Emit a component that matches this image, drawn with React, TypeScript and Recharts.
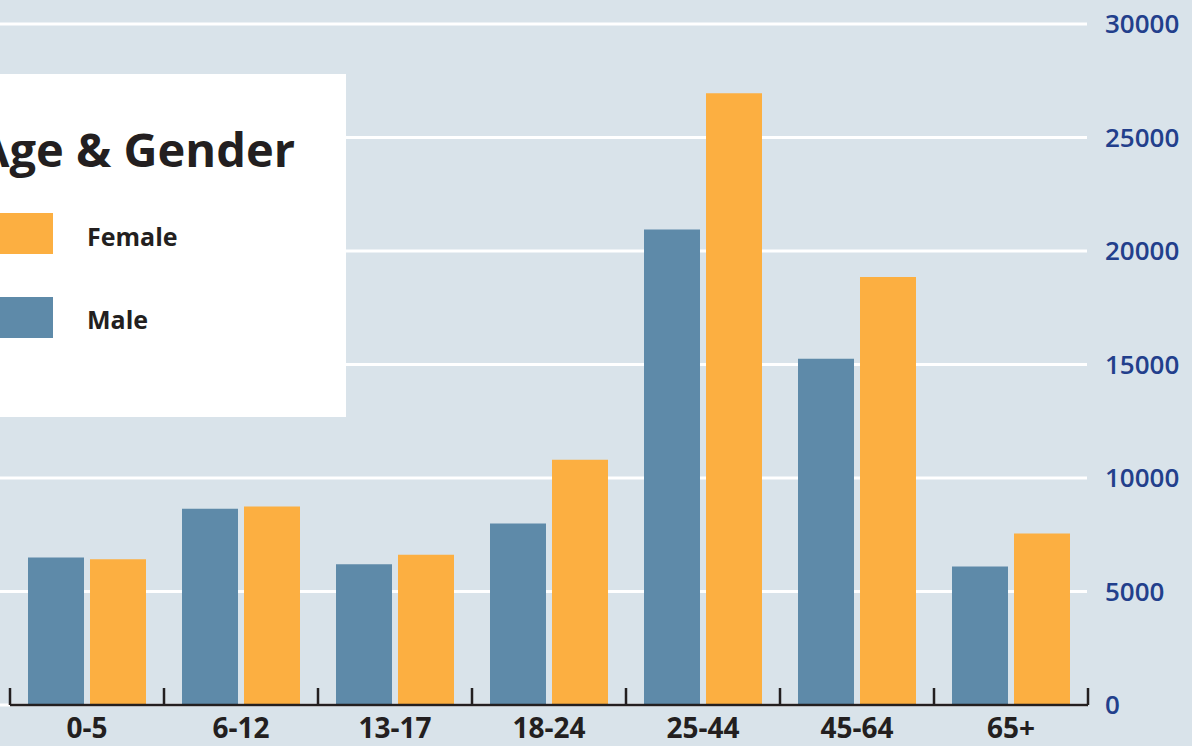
import React from "react";
import {
  BarChart,
  Bar,
  XAxis,
  YAxis,
  CartesianGrid,
} from "recharts";

const AGE_GROUPS = ["0-5", "6-12", "13-17", "18-24", "25-44", "45-64", "65+"];
const MALE = [6500, 8650, 6200, 8000, 20950, 15250, 6100];
const FEMALE = [6420, 8750, 6620, 10800, 26950, 18850, 7550];
const Y_TICKS = [0, 5000, 10000, 15000, 20000, 25000, 30000];
const TITLE = "Age & Gender";
const SERIES_NAMES = ["Male", "Female"];

const W = 1192;
const H = 746;
const LEFT = 10;
const Y_AXIS_W = 104;
const HALF_BAND = (W - LEFT - Y_AXIS_W) / AGE_GROUPS.length / 2;

const FONT = "'Open Sans', 'Noto Sans', sans-serif";
const INK = "#231f20";
const BLUE_TEXT = "#223f8c";
const MALE_COLOR = "#5e8aa9";
const FEMALE_COLOR = "#fcaf41";

const data = AGE_GROUPS.map((g, i) => ({ group: g, Male: MALE[i], Female: FEMALE[i] }));

const legendItems = [
  { name: SERIES_NAMES[1], color: FEMALE_COLOR },
  { name: SERIES_NAMES[0], color: MALE_COLOR },
];

const AgeTick = (props: any) => {
  const { x, y, payload, index } = props;
  const last = index === AGE_GROUPS.length - 1;
  return (
    <g>
      <line x1={x - HALF_BAND} x2={x - HALF_BAND} y1={y} y2={y - 17} stroke={INK} strokeWidth={2.5} />
      {last && (
        <line x1={x + HALF_BAND} x2={x + HALF_BAND} y1={y} y2={y - 17} stroke={INK} strokeWidth={2.5} />
      )}
      <text
        x={x}
        y={y + 33}
        textAnchor="middle"
        fill={INK}
        fontFamily={FONT}
        fontWeight={700}
        fontSize={28}
      >
        {payload.value}
      </text>
    </g>
  );
};

const LegendBox = () => (
  <div
    style={{
      position: "absolute",
      left: 0,
      top: 74,
      width: 346,
      height: 343,
      background: "#ffffff",
      overflow: "hidden",
      fontFamily: FONT,
      color: INK,
      zIndex: 2,
    }}
  >
    <div
      style={{
        position: "absolute",
        right: 51,
        top: 43,
        whiteSpace: "nowrap",
        fontSize: 47,
        fontWeight: 700,
        lineHeight: "64px",
      }}
    >
      {TITLE}
    </div>
    {legendItems.map((it, i) => (
      <div key={it.name}>
        <div
          style={{
            position: "absolute",
            left: 0,
            top: 139 + i * 84,
            width: 53,
            height: 41,
            background: it.color,
          }}
        />
        <div
          style={{
            position: "absolute",
            left: 87,
            top: 146 + i * 83,
            fontSize: 25,
            fontWeight: 700,
            lineHeight: "32px",
          }}
        >
          {it.name}
        </div>
      </div>
    ))}
  </div>
);

export default function App() {
  return (
    <div
      style={{
        position: "absolute",
        left: 0,
        top: 0,
        width: W,
        height: H,
        background: "#d9e3ea",
        overflow: "hidden",
      }}
    >
      <BarChart
        width={W}
        height={H}
        data={data}
        margin={{ top: 24, right: 0, left: LEFT, bottom: 0 }}
        barCategoryGap={18}
        barGap={6}
      >
        <CartesianGrid
          horizontal
          vertical={false}
          stroke="#ffffff"
          strokeWidth={3}
          x={0}
          width={W - Y_AXIS_W - 1}
        />
        <XAxis
          dataKey="group"
          height={41}
          interval={0}
          tickSize={0}
          tickMargin={0}
          tickLine={false}
          axisLine={{ stroke: INK, strokeWidth: 2.5 }}
          tick={<AgeTick />}
        />
        <YAxis
          orientation="right"
          width={Y_AXIS_W}
          domain={[0, 30000]}
          ticks={Y_TICKS}
          axisLine={false}
          tickLine={false}
          tickSize={0}
          tickMargin={17}
          tick={{ fill: BLUE_TEXT, fontSize: 26, fontWeight: 600, fontFamily: FONT, textAnchor: "start" }}
        />
        <Bar dataKey="Male" name={SERIES_NAMES[0]} fill={MALE_COLOR} isAnimationActive={false} />
        <Bar dataKey="Female" name={SERIES_NAMES[1]} fill={FEMALE_COLOR} isAnimationActive={false} />
      </BarChart>
      <LegendBox />
    </div>
  );
}
